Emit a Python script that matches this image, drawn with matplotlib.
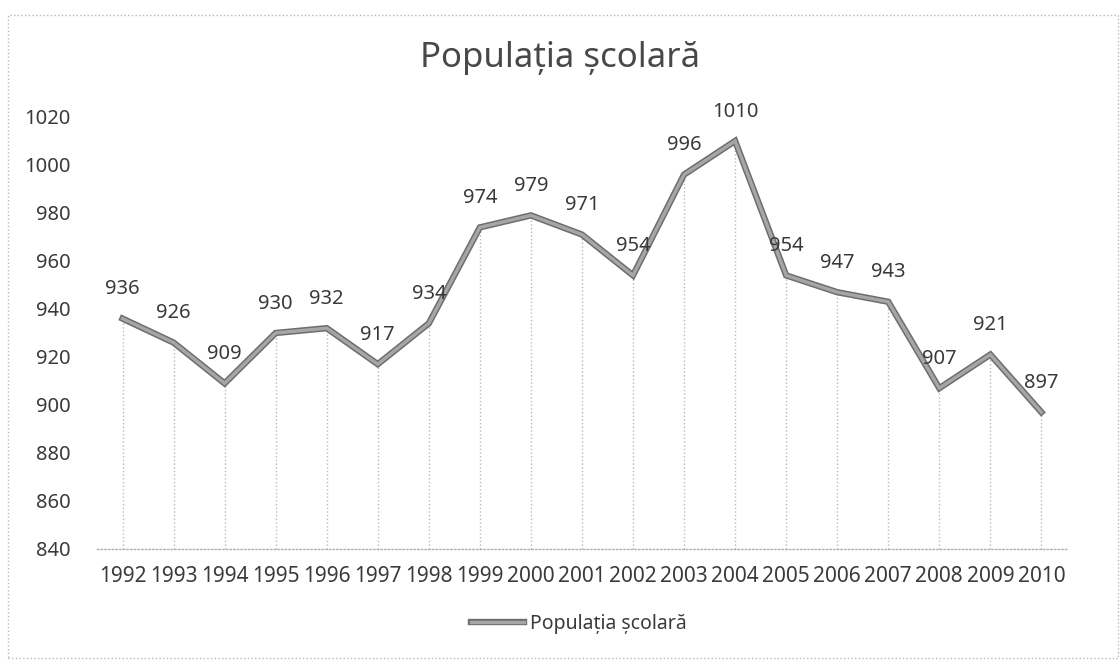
import matplotlib
matplotlib.use('Agg')
import matplotlib.pyplot as plt
import matplotlib.patheffects as pe
from matplotlib.patches import Rectangle

plt.rcParams['font.family'] = ['Noto Sans', 'DejaVu Sans']

# data
years = ['1992', '1993', '1994', '1995', '1996', '1997', '1998', '1999', '2000', '2001',
         '2002', '2003', '2004', '2005', '2006', '2007', '2008', '2009', '2010']
values = [936, 926, 909, 930, 932, 917, 934, 974, 979, 971,
          954, 996, 1010, 954, 947, 943, 907, 921, 897]
yticks = [840, 860, 880, 900, 920, 940, 960, 980, 1000, 1020]
title = 'Populația școlară'

text_color = '#3a3a3a'
line_color = '#a6a6a6'

fig = plt.figure(figsize=(11.2, 6.62), dpi=100)
ax = fig.add_axes([0.0866, 0.1707, 0.866, 0.6526])

x = list(range(len(years)))

# drop lines from each point to the axis
ax.vlines(x, yticks[0], values, colors='#b8b8b8', linestyles=':', linewidth=1)

# gray line with a darker edge, like the scanned excel line
edge = [pe.Stroke(linewidth=4.6, foreground='#6e6e6e'), pe.Normal()]
ax.plot(x, values, color=line_color, linewidth=2.4, solid_joinstyle='miter',
        label=title, path_effects=edge)

# data labels above points
for xi, v in zip(x, values):
    ax.annotate(str(v), (xi, v), xytext=(0, 14), textcoords='offset points',
                ha='center', va='bottom', fontsize=14.5, color=text_color)

ax.set_xlim(-0.5, len(years) - 0.5)
ax.set_ylim(yticks[0], yticks[-1])
ax.set_yticks(yticks)
ax.set_xticks(x)
ax.set_xticklabels(years)

for s in ['top', 'right', 'left']:
    ax.spines[s].set_visible(False)
ax.spines['bottom'].set_color('#b0b0b0')
ax.spines['bottom'].set_linestyle(':')
ax.spines['bottom'].set_linewidth(1)

ax.tick_params(axis='both', length=0, labelcolor=text_color)
ax.tick_params(axis='y', pad=19, labelsize=14.5)
ax.tick_params(axis='x', pad=12, labelsize=15)

fig.text(0.5, 0.912, title, ha='center', va='center', fontsize=25, color='#484848')

leg = fig.legend(loc='center', bbox_to_anchor=(0.517, 0.057), frameon=False,
                 fontsize=14, handlelength=2.7, handletextpad=0.35,
                 labelcolor=text_color)

# chart border
fig.patches.append(Rectangle((8 / 1120, 4 / 662), 1110 / 1120, 643 / 662,
                             transform=fig.transFigure, fill=False,
                             edgecolor='#b8b8b8', linestyle=':', linewidth=1))

fig.savefig('out.png', dpi=100)
